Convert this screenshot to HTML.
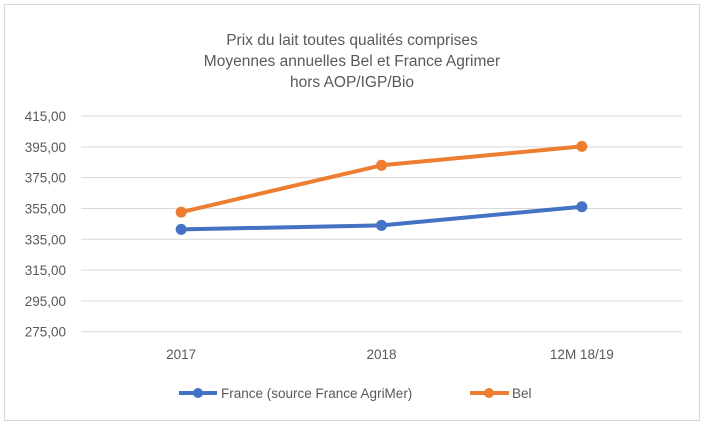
<!DOCTYPE html>
<html><head><meta charset="utf-8"><style>
body{margin:0;background:#fff;}
svg{display:block;font-family:"Liberation Sans",sans-serif;}
</style></head><body>
<svg width="704" height="430">
<rect x="4.5" y="4.5" width="695" height="416" fill="#fff" stroke="#d9d9d9"/>
<g fill="#595959" font-size="15.5" text-anchor="middle">
<text x="352" y="45">Prix du lait toutes qualités comprises</text>
<text x="352" y="66">Moyennes annuelles Bel et France Agrimer</text>
<text x="352" y="87">hors AOP/IGP/Bio</text>
</g>
<g id="grid"></g><g id="ylab"></g><g id="xlab"></g><g id="series"></g>
<g>
<g>
<line x1="179" y1="393" x2="217" y2="393" stroke="#4472c4" stroke-width="4"/>
<circle cx="198" cy="393" r="5" fill="#4472c4"/>
<text x="221" y="398" font-size="13.5" fill="#595959">France (source France AgriMer)</text>
</g>
<g>
<line x1="470" y1="393" x2="509" y2="393" stroke="#ed7d31" stroke-width="4"/>
<circle cx="489" cy="393" r="5" fill="#ed7d31"/>
<text x="512" y="398" font-size="13.5" fill="#595959">Bel</text>
</g>
</g>
</svg>
<script>
const categories=["2017","2018","12M 18/19"];
const franceValues=[341.4,344.0,356.1];
const belValues=[352.6,383.0,395.3];
const yTicks=[275,295,315,335,355,375,395,415];
const NS="http://www.w3.org/2000/svg";
const yMin=275,yMax=415,plotTop=116,plotBot=331.7,plotLeft=81,plotRight=682;
const yScale=v=>plotBot-(v-yMin)/(yMax-yMin)*(plotBot-plotTop);
const band=(plotRight-plotLeft)/categories.length;
const xScale=i=>plotLeft+band*(i+0.5);
function mk(t,a,p){const e=document.createElementNS(NS,t);for(const k in a)e.setAttribute(k,a[k]);p.appendChild(e);return e;}
const gridG=document.getElementById('grid'),ylG=document.getElementById('ylab'),xlG=document.getElementById('xlab'),serG=document.getElementById('series');
yTicks.forEach(t=>{
 const l=mk('line',{x1:plotLeft,x2:plotRight,y1:yScale(t),y2:yScale(t),stroke:'#d9d9d9','stroke-width':1},gridG);
 
 
 const tx=mk('text',{x:66,y:yScale(t)+5,'text-anchor':'end','font-size':'13.5',fill:'#595959'},ylG);
 tx.textContent=t.toFixed(2).replace('.',',');
 
 
});
categories.forEach((c,i)=>{
 const tx=mk('text',{x:xScale(i),y:359,'text-anchor':'middle','font-size':'13.5',fill:'#595959'},xlG);
 tx.textContent=c;
 
 
});
function drawSeries(vals,color,name){
 const g=mk('g',{},serG);
 
 
 const pl=mk('polyline',{points:vals.map((v,i)=>xScale(i)+','+yScale(v)).join(' '),fill:'none',stroke:color,'stroke-width':4,'stroke-linejoin':'round'},g);
 
 
 vals.forEach((v,i)=>{
  const c=mk('circle',{cx:xScale(i),cy:yScale(v),r:5.5,fill:color},g);
  
  
 });
}
drawSeries(franceValues,'#4472c4','france-series');
drawSeries(belValues,'#ed7d31','bel-series');
</script>
</body></html>
